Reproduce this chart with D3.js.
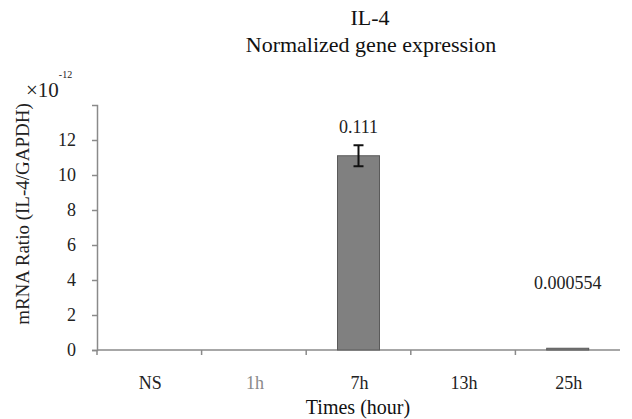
<!DOCTYPE html>
<html>
<head>
<meta charset="utf-8">
<style>
body { margin: 0; background: #fff; }
text { font-family: "Liberation Serif", "Times New Roman", serif; }
</style>
</head>
<body>
<svg width="632" height="419"></svg>
<script src="https://d3js.org/d3.v7.min.js"></script>
<script>

var categories = ["NS", "1h", "7h", "13h", "25h"];
var values = [0, 0, 11.1, 0, 0.1];      // x10^-12
var errors = [0, 0, 0.6, 0, 0];
var barLabels = ["", "", "0.111", "", "0.000554"];
var yTicks = [0, 2, 4, 6, 8, 10, 12];

var svg = d3.select("svg");

var x = d3.scaleBand()
    .domain(categories)
    .range([97, 620])
    .paddingInner(0)
    .paddingOuter(0);

var y = d3.scaleLinear()
    .domain([0, 14])
    .range([350, 105]);

// axes
var yAxis = svg.append("g")
    .attr("transform", "translate(97,0)")
    .call(d3.axisLeft(y).tickValues(yTicks).tickSizeInner(5).tickSizeOuter(5).tickPadding(16));
yAxis.select(".domain").attr("stroke", "#8a8a8a").attr("stroke-width", 1.5);
yAxis.selectAll(".tick line").attr("stroke", "#8a8a8a").attr("stroke-width", 1.5);
yAxis.selectAll(".tick text")
    .attr("font-family", "Liberation Serif, serif")
    .attr("font-size", 18)
    .attr("fill", "#222");

var xAxis = svg.append("g")
    .attr("transform", "translate(0,350)");
xAxis.append("line")
    .attr("x1", 97).attr("x2", 620)
    .attr("stroke", "#8a8a8a").attr("stroke-width", 1.5);
xAxis.selectAll(".xt")
    .data(categories)
    .enter().append("line")
      .attr("x1", function(d) { return x(d); })
      .attr("x2", function(d) { return x(d); })
      .attr("y1", 0).attr("y2", 5)
      .attr("stroke", "#8a8a8a").attr("stroke-width", 1.5);
xAxis.selectAll(".xl")
    .data(categories)
    .enter().append("text")
      .attr("x", function(d) { return x(d) + x.bandwidth() / 2 + 1; })
      .attr("y", 39)
      .attr("text-anchor", "middle")
      .attr("font-size", 18)
      .attr("fill", function(d) { return d == "1h" ? "#8a8a8a" : "#222"; })
      .text(function(d) { return d; });

// bars
var bw = 42;
svg.selectAll(".bar")
    .data(values)
    .enter().append("rect")
      .attr("x", function(d, i) { return x(categories[i]) + x.bandwidth() / 2 - bw / 2; })
      .attr("y", function(d) { return y(d); })
      .attr("width", bw)
      .attr("height", function(d) { return 350 - y(d); })
      .attr("fill", function(d) { return d > 0 ? "#808080" : "none"; })
      .attr("stroke", function(d) { return d > 0 ? "#5a5a5a" : "none"; })
      .attr("stroke-width", 1);

// error bars
values.forEach(function(v, i) {
  var e = errors[i];
  if (!e) return;
  var cx = x(categories[i]) + x.bandwidth() / 2;
  var g = svg.append("g").attr("stroke", "#111").attr("stroke-width", 2);
  g.append("line").attr("x1", cx).attr("x2", cx).attr("y1", y(v + e)).attr("y2", y(v - e));
  g.append("line").attr("x1", cx - 5).attr("x2", cx + 5).attr("y1", y(v + e)).attr("y2", y(v + e));
  g.append("line").attr("x1", cx - 5).attr("x2", cx + 5).attr("y1", y(v - e)).attr("y2", y(v - e));
});

// value labels
svg.selectAll(".vl")
    .data(barLabels)
    .enter().append("text")
      .attr("x", function(d, i) { return x(categories[i]) + x.bandwidth() / 2; })
      .attr("y", function(d, i) { return y(Math.max(values[i] + errors[i], 2.8)) - 12; })
      .attr("text-anchor", "middle")
      .attr("font-size", 18)
      .attr("fill", "#222")
      .text(function(d) { return d; });

// titles
svg.append("text")
    .attr("x", 370).attr("y", 25)
    .attr("text-anchor", "middle")
    .attr("font-size", 22)
    .attr("fill", "#111")
    .text("IL-4");
svg.append("text")
    .attr("x", 371).attr("y", 52)
    .attr("text-anchor", "middle")
    .attr("font-size", 22)
    .attr("fill", "#111")
    .text("Normalized gene expression");

// exponent
var ex = svg.append("text")
    .attr("x", 26).attr("y", 97)
    .attr("font-size", 21)
    .attr("fill", "#222");
ex.append("tspan").text("\u00d710");
ex.append("tspan").attr("dy", -19).attr("font-size", 10).text("-12");

svg.append("text")
    .attr("transform", "translate(29,214) rotate(-90)")
    .attr("text-anchor", "middle")
    .attr("font-size", 19)
    .attr("fill", "#222")
    .text("mRNA Ratio (IL-4/GAPDH)");

svg.append("text")
    .attr("x", 358).attr("y", 414)
    .attr("text-anchor", "middle")
    .attr("font-size", 20)
    .attr("fill", "#111")
    .text("Times (hour)");

</script>
</body>
</html>
